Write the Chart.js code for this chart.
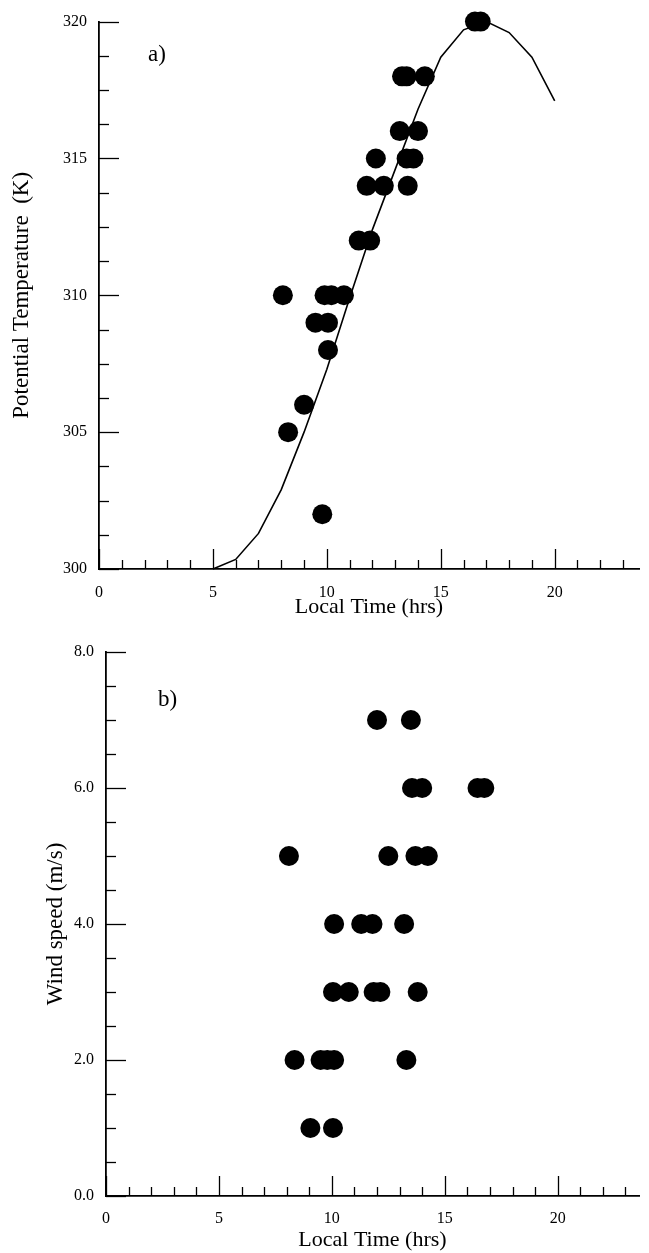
<!DOCTYPE html>
<html>
<head>
    <title>Potential temperature and wind speed vs local time</title>
    <script src="https://cdn.jsdelivr.net/npm/chart.js@4"></script>
    <style>
        body {
            margin: 0;
            background: #fff;
        }
        .panel {
            position: absolute;
            left: 0;
            width: 649px;
        }
    </style>
</head>
<body>
    <div class="panel" style="top:0;height:630px"><canvas id="tempChart"></canvas></div>
    <div class="panel" style="top:630px;height:623px"><canvas id="windChart"></canvas></div>

    <script>
        // a) model curve (hourly) and observed potential temperature
        const curveHours = [5, 6, 7, 8, 9, 10, 11, 12, 13, 14, 15, 16, 17, 18, 19, 20];
        const curveTemp = [300.0, 300.35, 301.3, 302.9, 305.0, 307.3, 309.9, 312.4, 314.6, 316.8, 318.7, 319.7, 320.0, 319.6, 318.7, 317.1];

        const obsTempHours = [16.5, 16.75, 13.3, 13.5, 14.3, 13.2, 14.0, 12.15, 13.5, 13.8,
                              11.75, 12.5, 13.55, 11.4, 11.9, 8.07, 9.9, 10.2, 10.75,
                              9.5, 10.05, 10.05, 9.0, 8.3, 9.8];
        const obsTemp = [320, 320, 318, 318, 318, 316, 316, 315, 315, 315,
                         314, 314, 314, 312, 312, 310, 310, 310, 310,
                         309, 309, 308, 306, 305, 302];

        // b) observed wind speed
        const windHours = [12.0, 13.5, 13.55, 14.0, 16.45, 16.75, 8.1, 12.5, 13.7, 14.25,
                           10.1, 11.3, 11.8, 13.2, 10.05, 10.75, 11.85, 12.15, 13.8,
                           8.35, 9.5, 9.8, 10.1, 13.3, 9.05, 10.05];
        const windSpeed = [7, 7, 6, 6, 6, 6, 5, 5, 5, 5,
                           4, 4, 4, 4, 3, 3, 3, 3, 3,
                           2, 2, 2, 2, 2, 1, 1];

        const xTickLabels = [0, 5, 10, 15, 20];
        const tempTickLabels = [300, 305, 310, 315, 320];
        const windTickLabels = [0, 2, 4, 6, 8];

        const serif = '"Liberation Serif", "Times New Roman", serif';

        const toPoints = (xs, ys) => xs.map((x, i) => ({ x: x, y: ys[i] }));

        // tick marks drawn inward from the axes, like the original figure
        const inwardTicks = {
            id: 'inwardTicks',
            afterDraw(chart, args, opts) {
                const ctx = chart.ctx;
                const xs = chart.scales.x;
                const ys = chart.scales.y;
                const area = chart.chartArea;
                ctx.save();
                ctx.strokeStyle = '#000';
                ctx.lineWidth = 1.3;
                for (let v = 0; v <= xs.max; v += 1) {
                    const px = Math.round(xs.getPixelForValue(v)) + 0.5;
                    const len = v % 5 === 0 ? 20 : 9;
                    ctx.beginPath();
                    ctx.moveTo(px, area.bottom);
                    ctx.lineTo(px, area.bottom - len);
                    ctx.stroke();
                }
                const n = Math.round((ys.max - ys.min) / opts.yMinor);
                for (let i = 0; i <= n; i++) {
                    const v = ys.min + i * opts.yMinor;
                    const py = Math.round(ys.getPixelForValue(v)) + 0.5;
                    const len = i % opts.majorEvery === 0 ? 20 : 10;
                    ctx.beginPath();
                    ctx.moveTo(area.left, py);
                    ctx.lineTo(area.left + len, py);
                    ctx.stroke();
                }
                ctx.fillStyle = '#000';
                ctx.font = '23px ' + serif;
                ctx.textBaseline = 'middle';
                ctx.fillText(opts.letter, area.left + opts.letterDx, area.top + opts.letterDy);
                ctx.restore();
            }
        };

        function makeOptions(cfg) {
            return {
                responsive: true,
                maintainAspectRatio: false,
                animation: false,
                events: [],
                layout: { padding: { top: cfg.padTop, right: 0, left: 0, bottom: 0 } },
                plugins: {
                    legend: { display: false },
                    tooltip: { enabled: false },
                    inwardTicks: cfg.ticks
                },
                scales: {
                    x: {
                        type: 'linear',
                        min: 0,
                        max: cfg.xMax,
                        afterBuildTicks: s => { s.ticks = xTickLabels.map(v => ({ value: v })); },
                        afterFit: s => { s.height = cfg.xHeight; },
                        grid: { display: false, drawTicks: false },
                        border: { display: true, color: '#000', width: 1.8 },
                        ticks: {
                            padding: cfg.xPad,
                            color: '#000',
                            font: { family: serif, size: 16 },
                            callback: v => String(v)
                        },
                        title: {
                            display: true,
                            text: 'Local Time (hrs)',
                            color: '#000',
                            font: { family: serif, size: 22 },
                            padding: { top: 0, bottom: cfg.xTitlePad }
                        }
                    },
                    y: {
                        type: 'linear',
                        min: cfg.yMin,
                        max: cfg.yMax,
                        afterBuildTicks: s => { s.ticks = cfg.yLabels.map(v => ({ value: v })); },
                        afterFit: s => { s.width = cfg.yWidth; },
                        grid: { display: false, drawTicks: false },
                        border: { display: true, color: '#000', width: 1.8 },
                        ticks: {
                            padding: 12,
                            color: '#000',
                            font: { family: serif, size: 16 },
                            callback: cfg.yFormat
                        },
                        title: {
                            display: true,
                            text: cfg.yTitle,
                            color: '#000',
                            font: { family: serif, size: 23 },
                            padding: { top: cfg.yTitlePad, bottom: 0 }
                        }
                    }
                }
            };
        }

        new Chart(document.getElementById('tempChart'), {
            type: 'scatter',
            data: {
                datasets: [{
                    label: 'Model',
                    data: toPoints(curveHours, curveTemp),
                    showLine: true,
                    borderColor: '#000',
                    borderWidth: 1.6,
                    tension: 0,
                    pointRadius: 0,
                    clip: false
                }, {
                    label: 'Observed',
                    data: toPoints(obsTempHours, obsTemp),
                    pointRadius: 10,
                    pointBackgroundColor: '#000',
                    pointBorderWidth: 0,
                    clip: false
                }]
            },
            options: makeOptions({
                padTop: 16, xMax: 23.7, xHeight: 61, xPad: 14, xTitlePad: 10,
                yMin: 300, yMax: 320, yLabels: tempTickLabels, yWidth: 99,
                yFormat: v => String(v), yTitle: 'Potential Temperature  (K)', yTitlePad: 8,
                ticks: { yMinor: 1.25, majorEvery: 4, letter: 'a)', letterDx: 49, letterDy: 33 }
            }),
            plugins: [inwardTicks]
        });

        new Chart(document.getElementById('windChart'), {
            type: 'scatter',
            data: {
                datasets: [{
                    label: 'Wind speed',
                    data: toPoints(windHours, windSpeed),
                    pointRadius: 10,
                    pointBackgroundColor: '#000',
                    pointBorderWidth: 0,
                    clip: false
                }]
            },
            options: makeOptions({
                padTop: 22, xMax: 23.6, xHeight: 57, xPad: 13, xTitlePad: 0,
                yMin: 0, yMax: 8, yLabels: windTickLabels, yWidth: 106,
                yFormat: v => Number(v).toFixed(1), yTitle: 'Wind speed (m/s)', yTitlePad: 42,
                ticks: { yMinor: 0.5, majorEvery: 4, letter: 'b)', letterDx: 52, letterDy: 48 }
            }),
            plugins: [inwardTicks]
        });
    </script>
</body>
</html>
